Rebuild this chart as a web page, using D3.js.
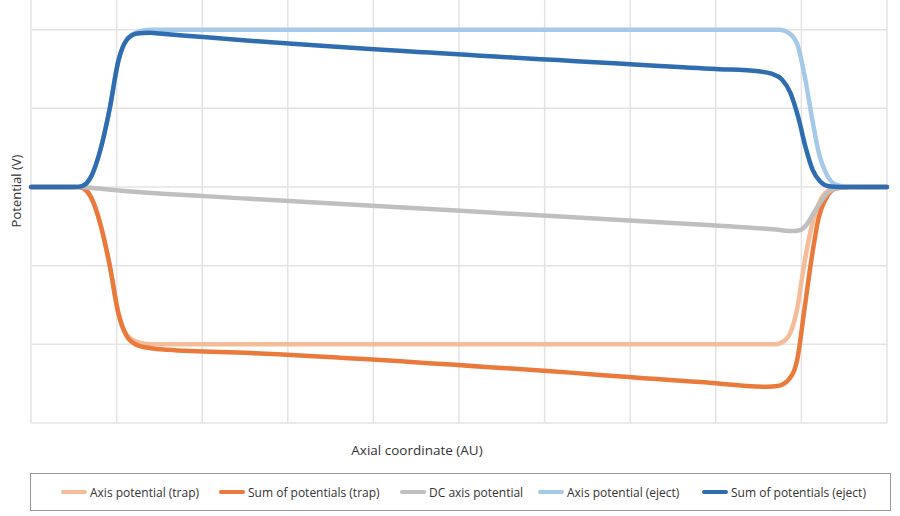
<!DOCTYPE html>
<html>
<head>
<meta charset="utf-8">
<script src="https://cdn.jsdelivr.net/npm/d3@7"></script>
<style>
  html, body { margin: 0; padding: 0; background: #fff; }
  svg { display: block; font-family: "Open Sans", "Noto Sans", sans-serif; }
</style>
</head>
<body>
<svg id="chart" width="900" height="516"></svg>
<script>
// ---- data (axial coordinate in AU, potential in V) ----
const xTicks = [0, 1, 2, 3, 4, 5, 6, 7, 8, 9, 10];
const yTicks = [-3, -2, -1, 0, 1, 2, 3];

const axisTrap = [
  [0, 0], [0.5, 0], [0.57, -0.005], [0.63, -0.03], [0.71, -0.15], [0.81, -0.47], [0.92, -1.0],
  [1.02, -1.6], [1.12, -1.88], [1.24, -1.97], [1.4, -2.0], [8.7, -2.0], [8.78, -1.97],
  [8.86, -1.88], [8.95, -1.55], [9.03, -1.0], [9.12, -0.5], [9.22, -0.17], [9.32, -0.04],
  [9.42, -0.005], [9.55, 0], [10, 0]
];
const sumTrap = [
  [0, 0], [0.5, 0], [0.57, -0.005], [0.63, -0.03], [0.71, -0.15], [0.81, -0.47], [0.92, -1.0],
  [1.02, -1.6], [1.12, -1.9], [1.24, -2.01], [1.4, -2.05], [1.6, -2.07], [2.56, -2.11],
  [7.82, -2.48], [8.6, -2.54], [8.72, -2.53], [8.85, -2.45], [8.95, -2.2], [9.03, -1.6],
  [9.12, -0.9], [9.2, -0.4], [9.3, -0.12], [9.4, -0.02], [9.55, 0], [10, 0]
];
const dcAxis = [
  [0, 0], [0.55, 0], [0.65, -0.005], [0.8, -0.02], [1, -0.04], [2.56, -0.15], [8.0, -0.49],
  [8.7, -0.54], [8.9, -0.56], [8.98, -0.55], [9.06, -0.48], [9.15, -0.32], [9.25, -0.15],
  [9.35, -0.04], [9.45, -0.005], [9.55, 0], [10, 0]
];
const axisEject = [
  [0, 0], [0.5, 0], [0.57, 0.005], [0.63, 0.03], [0.71, 0.15], [0.81, 0.47], [0.92, 1.0],
  [1.02, 1.6], [1.12, 1.88], [1.24, 1.97], [1.4, 2.0], [8.75, 2.0], [8.85, 1.96],
  [8.95, 1.82], [9.04, 1.4], [9.12, 0.9], [9.2, 0.45], [9.3, 0.15], [9.4, 0.03],
  [9.5, 0.005], [9.6, 0], [10, 0]
];
const sumEject = [
  [0, 0], [0.5, 0], [0.57, 0.005], [0.63, 0.03], [0.71, 0.15], [0.81, 0.47], [0.92, 1.0],
  [1.02, 1.6], [1.12, 1.87], [1.24, 1.95], [1.39, 1.96], [1.5, 1.95], [8.0, 1.5],
  [8.5, 1.47], [8.65, 1.44], [8.77, 1.37], [8.87, 1.2], [8.96, 0.9], [9.05, 0.5],
  [9.13, 0.22], [9.22, 0.07], [9.32, 0.01], [9.45, 0], [10, 0]
];

const seriesNames = [
  "Axis potential (trap)", "Sum of potentials (trap)", "DC axis potential",
  "Axis potential (eject)", "Sum of potentials (eject)"
];
const seriesData = [axisTrap, sumTrap, dcAxis, axisEject, sumEject];
const seriesColors = ["#F4BC98", "#E97A3B", "#BFBFBF", "#A7C9E8", "#2F6DB0"];

// ---- layout ----
const svg = d3.select("#chart");
const plot = { left: 31, right: 887, top: -49, bottom: 423 };

const x = d3.scaleLinear().domain([0, 10]).range([plot.left, plot.right]);
const y = d3.scaleLinear().domain([-3, 3]).range([plot.bottom, plot.top]);

// gridlines
const grid = svg.append("g").attr("stroke", "#E3E3E3").attr("stroke-width", 1.5);
grid.selectAll("line.v").data(xTicks).enter().append("line")
  .attr("x1", d => x(d)).attr("x2", d => x(d))
  .attr("y1", plot.top).attr("y2", plot.bottom);
grid.selectAll("line.h").data(yTicks).enter().append("line")
  .attr("x1", plot.left).attr("x2", plot.right)
  .attr("y1", d => y(d)).attr("y2", d => y(d));

// lines
const line = d3.line()
  .x(d => x(d[0]))
  .y(d => y(d[1]))
  .curve(d3.curveMonotoneX);

svg.append("g").selectAll("path").data(seriesData).enter().append("path")
  .attr("d", line)
  .attr("fill", "none")
  .attr("stroke", (d, i) => seriesColors[i])
  .attr("stroke-width", 4.5)
  .attr("stroke-linejoin", "round")
  .attr("stroke-linecap", "round");

// axis titles
svg.append("text")
  .attr("x", 417).attr("y", 455)
  .attr("text-anchor", "middle")
  .attr("font-size", 13.5).attr("fill", "#333")
  .text("Axial coordinate (AU)");

svg.append("text")
  .attr("transform", "translate(21,191) rotate(-90)")
  .attr("text-anchor", "middle")
  .attr("font-size", 13).attr("fill", "#333")
  .text("Potential (V)");

// legend
svg.append("rect")
  .attr("x", 30.5).attr("y", 473.5).attr("width", 860).attr("height", 37)
  .attr("fill", "#fff").attr("stroke", "#999").attr("stroke-width", 1);

const legendX = [63, 221, 402, 540, 704];
const legend = svg.append("g").selectAll("g").data(seriesNames).enter().append("g")
  .attr("transform", (d, i) => `translate(${legendX[i]},492)`);
legend.append("line")
  .attr("x1", 0).attr("x2", 22).attr("y1", 0).attr("y2", 0)
  .attr("stroke", (d, i) => seriesColors[i])
  .attr("stroke-width", 4).attr("stroke-linecap", "round");
legend.append("text")
  .attr("x", 27).attr("y", 4.5)
  .attr("font-size", 12).attr("fill", "#333")
  .text(d => d);
</script>
</body>
</html>
